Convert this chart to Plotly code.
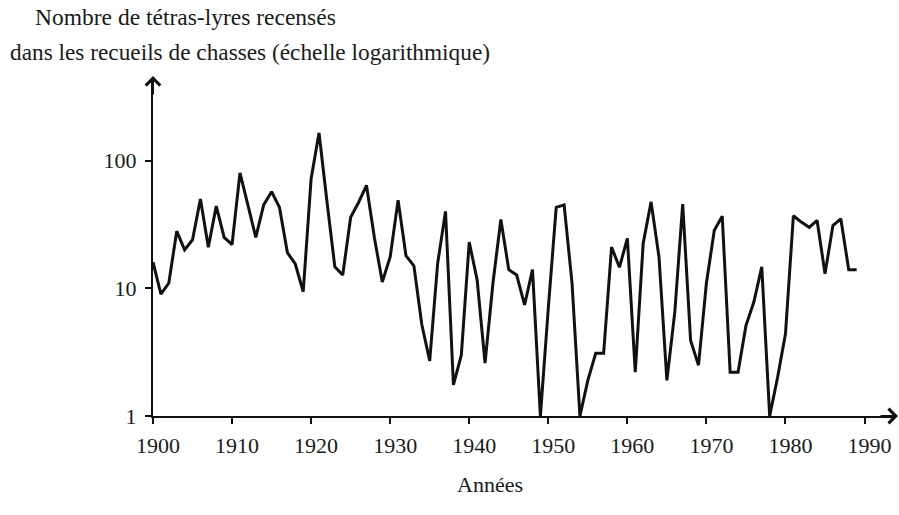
import plotly.graph_objects as go

years = list(range(1900, 1990))
counts = [
    16, 9, 11, 28, 20, 24, 50, 21, 44, 25,          # 1900-1909
    22, 80, 45, 25, 45, 57, 43, 19, 15.5, 9.4,      # 1910-1919
    72, 165, 48, 14.7, 12.7, 36, 47, 64, 25, 11.2,  # 1920-1929
    17.6, 49, 18, 15, 5.2, 2.7, 15.6, 40, 1.75, 3,  # 1930-1939
    23, 11.6, 2.6, 11, 34.6, 14, 12.7, 7.4, 14, 1,  # 1940-1949
    7, 43, 45, 11, 1, 1.9, 3.1, 3.1, 21, 14.6,      # 1950-1959
    24.6, 2.2, 22.4, 47.5, 17.6, 1.9, 6.5, 45.6, 3.9, 2.5,  # 1960-1969
    11, 28.5, 36.7, 2.2, 2.2, 5.1, 7.8, 14.7, 1, 2,  # 1970-1979
    4.4, 37, 33, 30, 34, 13, 31, 35, 14, 14,        # 1980-1989
]

x_tickvals = [1900, 1910, 1920, 1930, 1940, 1950, 1960, 1970, 1980, 1990]
x_ticktext = [str(v) for v in x_tickvals]
y_tickvals = [1, 10, 100]
y_ticktext = ["1", "10", "100"]

title_line1 = "Nombre de tétras-lyres recensés"
title_line2 = "dans les recueils de chasses (échelle logarithmique)"
x_title = "Années"

FONT = "Liberation Serif"
TXT = "#1a1a1a"

fig = go.Figure()
fig.add_trace(go.Scatter(
    x=years, y=counts, mode="lines",
    line=dict(color="#111111", width=3),
    showlegend=False, hoverinfo="skip",
))

fig.update_layout(
    width=899, height=515,
    margin=dict(l=153, r=6, t=80, b=99),
    paper_bgcolor="white", plot_bgcolor="white",
    font=dict(family=FONT, size=22, color=TXT),
    xaxis=dict(
        range=[1900, 1993.6],
        tickvals=x_tickvals, ticktext=x_ticktext,
        showgrid=False, zeroline=False,
        showline=True, linecolor="#111111", linewidth=2,
        ticks="outside", ticklen=6, tickwidth=2, tickcolor="#111111",
        ticklabelstandoff=3, ticklabelshift=5,
        tickfont=dict(family=FONT, size=22, color=TXT),
    ),
    yaxis=dict(
        type="log", range=[0, 2.631],
        tickvals=y_tickvals, ticktext=y_ticktext,
        showgrid=False, zeroline=False,
        showline=True, linecolor="#111111", linewidth=2,
        ticks="outside", ticklen=6, tickwidth=2, tickcolor="#111111",
        ticklabelstandoff=4,
        tickfont=dict(family=FONT, size=22, color=TXT),
    ),
)

annotations = [
    dict(text=title_line1, xref="paper", yref="paper", x=(33 - 153) / 740, y=(415.7 - 17) / 335.7,
         xanchor="left", yanchor="middle", showarrow=False,
         font=dict(family=FONT, size=23.5, color=TXT)),
    dict(text=title_line2, xref="paper", yref="paper", x=(8 - 153) / 740, y=(415.7 - 52) / 335.7,
         xanchor="left", yanchor="middle", showarrow=False,
         font=dict(family=FONT, size=23.3, color=TXT)),
    dict(text=x_title, xref="paper", yref="paper", x=(490 - 153) / 740, y=(415.7 - 484) / 335.7,
         xanchor="center", yanchor="middle", showarrow=False,
         font=dict(family=FONT, size=22, color=TXT)),
    # y axis arrow head
    dict(text="", xref="paper", yref="paper", x=0, y=(415.7 - 76) / 335.7,
         ax=0, ay=20, axref="pixel", ayref="pixel", showarrow=True,
         arrowhead=4, arrowsize=1.4, arrowwidth=2, arrowcolor="#111111"),
    # x axis arrow head
    dict(text="", xref="paper", yref="paper", x=(899 - 153) / 740, y=0,
         ax=-20, ay=0, axref="pixel", ayref="pixel", showarrow=True,
         arrowhead=4, arrowsize=1.4, arrowwidth=2, arrowcolor="#111111"),
]
fig.update_layout(annotations=annotations)

fig.write_html(
    "out.html",
    config={"displayModeBar": False},
    post_script="document.body.style.margin='0';document.body.style.padding='0';",
)
